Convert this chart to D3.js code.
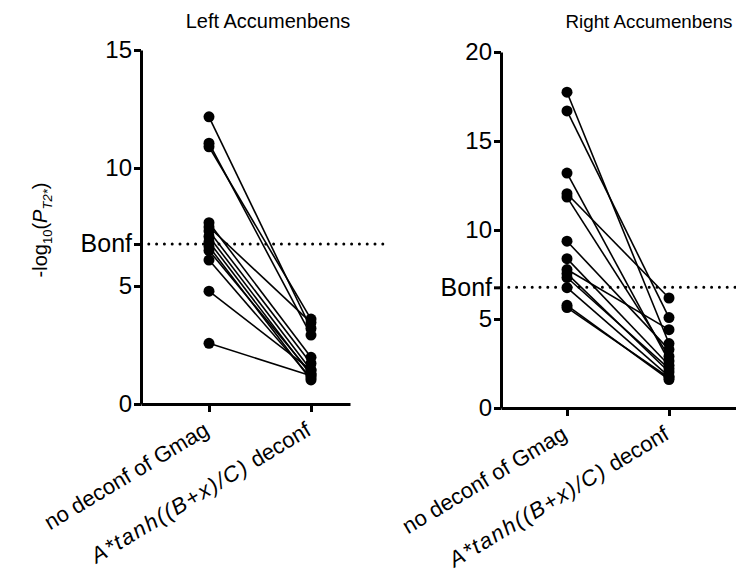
<!DOCTYPE html>
<html>
<head>
<meta charset="utf-8">
<script src="https://cdn.jsdelivr.net/npm/d3@7"></script>
<style>
  body { margin: 0; background: #fff; }
  svg { display: block; font-family: Arial, "Liberation Sans", Helvetica, sans-serif; }
</style>
</head>
<body>
<svg id="chart" width="736" height="581"></svg>
<script>
// Conditions compared within each subject
const categories = ["no deconf of Gmag", "A*tanh((B+x)/C) deconf"];

// Bonferroni threshold on the -log10(P) scale
const bonf = 6.78;

// Left accumbens: -log10(P) per subject, before and after deconfounding
const leftBefore = [12.17, 11.05, 10.9, 7.68, 7.5, 7.33, 7.1, 6.88, 6.67, 6.5, 6.1, 4.78, 2.57];
const leftAfter  = [3.2, 2.92, 3.6, 1.98, 3.45, 1.72, 1.44, 1.23, 1.02, 1.3, 1.1, 1.44, 1.2];

// Right accumbens
const rightBefore = [17.74, 16.69, 13.2, 12.04, 11.85, 9.37, 8.39, 7.78, 7.55, 7.33, 6.76, 5.77, 5.64];
const rightAfter  = [3.62, 5.08, 2.64, 6.18, 2.9, 3.28, 2.4, 4.4, 2.02, 2.21, 1.78, 1.6, 1.7];

// Axis ticks
const leftTicks = [0, 5, 10, 15];
const rightTicks = [0, 5, 10, 15, 20];

const svg = d3.select("#chart");

function panel(cfg) {
  const g = svg.append("g");
  const y = d3.scaleLinear().domain([0, cfg.yMax]).range([cfg.y0, cfg.yTop]);
  const x = d3.scaleLinear()
    .domain([cfg.xDomain[0], cfg.xDomain[1]])
    .range([cfg.xLeft, cfg.xRight]);

  // dotted Bonferroni line
  g.append("line")
    .attr("x1", cfg.xLeft).attr("x2", cfg.dotEnd)
    .attr("y1", y(bonf)).attr("y2", y(bonf))
    .attr("stroke", "#000").attr("stroke-width", 3)
    .attr("stroke-dasharray", "0 7.8").attr("stroke-linecap", "round");

  // paired lines
  const pairs = cfg.before.map((b, i) => [b, cfg.after[i]]);
  g.selectAll("line.pair").data(pairs).join("line")
    .attr("class", "pair")
    .attr("x1", x(0)).attr("x2", x(1))
    .attr("y1", d => y(d[0])).attr("y2", d => y(d[1]))
    .attr("stroke", "#000").attr("stroke-width", 1.6);

  // points
  const pts = [];
  pairs.forEach(p => { pts.push([0, p[0]]); pts.push([1, p[1]]); });
  g.selectAll("circle").data(pts).join("circle")
    .attr("cx", d => x(d[0])).attr("cy", d => y(d[1]))
    .attr("r", 5.5).attr("fill", "#000");

  // y axis
  const yAxis = d3.axisLeft(y)
    .tickValues(cfg.ticks.concat([bonf]))
    .tickFormat(v => v === bonf ? "Bonf" : d3.format("d")(v))
    .tickSize(7).tickSizeOuter(0).tickPadding(2);
  const ya = g.append("g").attr("transform", `translate(${cfg.xLeft},0)`).call(yAxis);
  ya.select(".domain").attr("stroke-width", 3);
  ya.selectAll(".tick line").attr("stroke-width", 3);
  ya.selectAll(".tick text")
    .attr("font-size", v => v === bonf ? 25 : 24)
    .attr("fill", "#000")
    .attr("font-family", "Arial, 'Liberation Sans', sans-serif");

  // x axis
  const xAxis = d3.axisBottom(x).tickValues([0, 1])
    .tickFormat(i => categories[i]).tickSize(8).tickSizeOuter(0);
  const xa = g.append("g").attr("transform", `translate(0,${cfg.y0})`).call(xAxis);
  xa.select(".domain").attr("stroke-width", 3);
  xa.selectAll(".tick line").attr("stroke-width", 3);
  xa.selectAll(".tick text").remove();
  xa.selectAll(".tick").each(function(i) {
    const t = d3.select(this).append("text")
      .attr("text-anchor", "end")
      .attr("font-size", 22)
      .attr("fill", "#000")
      .attr("transform", "translate(1,30) rotate(-31)");
    if (i === 0) {
      t.text(categories[0]);
    } else {
      t.append("tspan").attr("font-style", "italic")
        .attr("letter-spacing", "1.6px").text("A*tanh((B+x)/C)");
      t.append("tspan").text(" deconf");
    }
  });

  // panel title
  g.append("text")
    .attr("x", cfg.titleX).attr("y", 28)
    .attr("text-anchor", "middle").attr("font-size", cfg.titleSize)
    .text(cfg.title);
}

panel({
  title: "Left Accumenbens", titleX: 268, titleSize: 20,
  before: leftBefore, after: leftAfter, ticks: leftTicks,
  yMax: 15, y0: 404, yTop: 50,
  xLeft: 141, xRight: 350, xDomain: [-68 / 102, 1 + 39 / 102], dotEnd: 383
});

panel({
  title: "Right Accumenbens", titleX: 649, titleSize: 18.8,
  before: rightBefore, after: rightAfter, ticks: rightTicks,
  yMax: 20, y0: 408, yTop: 52,
  xLeft: 501, xRight: 736, xDomain: [-66 / 102, 1 + 67 / 102], dotEnd: 736
});

// y-axis title: -log10(P_T2*)
const yt = svg.append("text")
  .attr("transform", "translate(47,230) rotate(-90)")
  .attr("text-anchor", "middle")
  .attr("font-size", 20);
yt.append("tspan").text("-log");
yt.append("tspan").attr("font-size", 13).attr("dy", 5).text("10");
yt.append("tspan").attr("dy", -5).text("(");
yt.append("tspan").attr("font-style", "italic").text("P");
yt.append("tspan").attr("font-size", 13).attr("font-style", "italic").attr("dy", 5).text("T2*");
yt.append("tspan").attr("dy", -5).text(")");
</script>
</body>
</html>
